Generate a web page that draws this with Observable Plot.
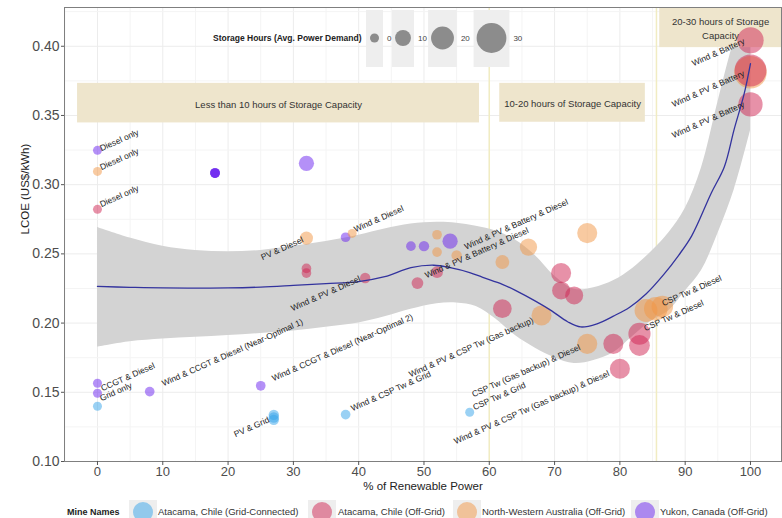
<!DOCTYPE html>
<html>
<head>
<meta charset="utf-8">
<script src="https://cdn.jsdelivr.net/npm/d3@7"></script>
<script src="https://cdn.jsdelivr.net/npm/@observablehq/plot@0.6"></script>
<style>
  body { margin: 0; background: #fff; font-family: "Liberation Sans", Arial, sans-serif; }
  #chart { position: relative; width: 782px; height: 518px; overflow: hidden; background: #fff; }
  #chart svg { display: block; }
</style>
</head>
<body>
<div id="chart"></div>
<script>
// Mines (colour legend)
const mineNames = [
  "Atacama, Chile (Grid-Connected)",
  "Atacama, Chile (Off-Grid)",
  "North-Western Australia (Off-Grid)",
  "Yukon, Canada (Off-Grid)"
];
const mineColors = ["#35a3e9", "#cf2352", "#f29644", "#6a22f0"];

// Each design: [% renewable power, LCOE (US$/kWh), storage hours]
const atacamaGrid = [
  [0, 0.1399, 0], [27, 0.1337, 2], [27, 0.1318, 2], [27, 0.1301, 2],
  [38, 0.1339, 1], [57, 0.1356, 0]
];
const atacamaOffGrid = [
  [0, 0.2822, 0], [32, 0.2395, 1], [32, 0.2361, 1], [41, 0.2326, 2],
  [49, 0.2289, 4], [52, 0.2368, 4], [62, 0.2104, 14], [71, 0.2361, 16],
  [71, 0.2236, 13], [73, 0.2200, 13], [79, 0.1850, 16], [80, 0.1670, 16],
  [83, 0.1923, 19], [83, 0.1838, 17], [100, 0.4043, 25], [100, 0.3825, 33],
  [100, 0.3580, 22]
];
const nwAustralia = [
  [0, 0.3096, 0], [32, 0.2614, 6], [39, 0.2648, 0], [52, 0.2638, 1],
  [52, 0.2513, 1], [55, 0.2489, 2], [62, 0.2441, 7], [66, 0.2549, 12],
  [68, 0.2055, 16], [75, 0.2650, 16], [75, 0.1850, 16], [84, 0.2091, 20],
  [85.5, 0.2104, 21], [86.5, 0.2120, 18], [100, 0.3812, 34]
];
const yukon = [
  [0, 0.3248, 0], [18, 0.3084, 1], [18, 0.3084, 1], [18, 0.3084, 1],
  [18, 0.3084, 1], [32, 0.3154, 9], [38, 0.2620, 1], [0, 0.1565, 0],
  [0, 0.1493, 0], [8, 0.1505, 1], [25, 0.1547, 1], [48, 0.2556, 1],
  [50, 0.2556, 2], [54, 0.2592, 9]
];

// Smoothed trend and its confidence band
const fitPct  = [0, 5, 10, 15, 20, 25, 30, 35, 40, 44, 48, 51.5, 54, 57, 59, 62, 64, 67, 69.5, 72, 74, 76.5, 79, 81.5, 84, 86.7, 89, 91, 94, 96, 97.5, 99, 100];
const fitLcoe = [0.2265, 0.2258, 0.2255, 0.2253, 0.2254, 0.2260, 0.2272, 0.2285, 0.2300, 0.2335, 0.2400, 0.2418, 0.2400, 0.2365, 0.2330, 0.2280, 0.2236, 0.2160, 0.2090, 0.2010, 0.1972, 0.1995, 0.2050, 0.2115, 0.2210, 0.2350, 0.2490, 0.2630, 0.2940, 0.3130, 0.3400, 0.3650, 0.3875];
const bandPct  = [0, 5, 10, 15, 20, 25, 30, 35, 40, 44, 48, 52, 55, 58, 61, 64, 67, 70, 73, 76, 79, 82, 85, 87.5, 90, 92.5, 95, 97.5, 100];
const bandLow  = [0.1826, 0.1865, 0.1885, 0.1897, 0.1910, 0.1925, 0.1943, 0.1970, 0.2000, 0.2045, 0.2100, 0.2140, 0.2145, 0.2120, 0.2030, 0.1910, 0.1820, 0.1750, 0.1708, 0.1730, 0.1785, 0.1905, 0.2020, 0.2090, 0.2230, 0.2380, 0.2646, 0.2962, 0.3390];
const bandHigh = [0.2691, 0.2615, 0.2555, 0.2525, 0.2515, 0.2525, 0.2555, 0.2590, 0.2635, 0.2680, 0.2715, 0.2728, 0.2722, 0.2700, 0.2665, 0.2600, 0.2490, 0.2340, 0.2245, 0.2255, 0.2305, 0.2397, 0.2524, 0.2653, 0.2828, 0.3123, 0.3594, 0.4043, 0.4400];

// Storage-capacity tiers
const tierLabels = ["Less than 10 hours of Storage Capacity", "10-20 hours of Storage Capacity", "20-30 hours of Storage\nCapacity"];
const tierPct    = [[-3.05, 58.5], [61.6, 83.9], [86.1, 104.75]];
const tierLcoe   = [[0.3446, 0.3732], [0.3451, 0.3732], [0.3990, 0.4280]];
const tierBreaks = [60, 85.6];

// Design labels: [text, % renewable, LCOE] at the start of each label
const designLabels = [
  ["Diesel only", 0.61, 0.3241],
  ["Diesel only", 0.61, 0.3104],
  ["Diesel only", 0.61, 0.2837],
  ["PV & Diesel", 25.27, 0.2454],
  ["Wind & Diesel", 39.51, 0.2656],
  ["Wind & PV & Diesel", 29.86, 0.2085],
  ["Wind & CCGT & Diesel (Near-Optimal 1)", 10.11, 0.1543],
  ["Wind & CCGT & Diesel (Near-Optimal 2)", 26.95, 0.1579],
  ["CCGT & Diesel", 0.77, 0.1507],
  ["Grid only", 0.61, 0.1435],
  ["PV & Grid", 21.13, 0.1175],
  ["Wind & CSP Tw & Grid", 39.05, 0.1363],
  ["CSP Tw & Grid", 57.73, 0.1370],
  ["CSP Tw (Gas backup) & Diesel", 57.58, 0.1464],
  ["Wind & PV & CSP Tw (Gas backup) & Diesel", 54.82, 0.1124],
  ["Wind & PV & CSP Tw (Gas backup)", 47.93, 0.1608],
  ["CSP Tw & Diesel", 86.68, 0.2121],
  ["CSP Tw & Diesel", 83.92, 0.1941],
  ["Wind & PV & Battery & Diesel", 56.43, 0.2530],
  ["Wind & PV & Battery & Diesel", 50.38, 0.2324],
  ["Wind & Battery", 91.27, 0.3855],
  ["Wind & PV & Battery", 88.21, 0.3559],
  ["Wind & PV & Battery", 88.21, 0.3335]
];

// Axis ticks and legend breaks
const pctTicks = [0, 10, 20, 30, 40, 50, 60, 70, 80, 90, 100];
const pctMinor = [-5, 5, 15, 25, 35, 45, 55, 65, 75, 85, 95];
const lcoeTicks = [0.10, 0.15, 0.20, 0.25, 0.30, 0.35, 0.40];
const lcoeMinor = [0.125, 0.175, 0.225, 0.275, 0.325, 0.375, 0.425];
const storageBreaks = [0, 10, 20, 30];

// Tables built from the arrays above
const mineSeries = [atacamaGrid, atacamaOffGrid, nwAustralia, yukon];
const points = mineSeries.flatMap((rows, i) =>
  rows.map(([pct, lcoe, hours]) => ({mine: mineNames[i], pct, lcoe, hours})));
const fit = fitPct.map((pct, i) => ({pct, lcoe: fitLcoe[i]}));
const band = bandPct.map((pct, i) => ({pct, low: bandLow[i], high: bandHigh[i]}));
const tiers = tierLabels.map((label, i) => ({
  label, x1: tierPct[i][0], x2: tierPct[i][1], y1: tierLcoe[i][0], y2: tierLcoe[i][1]
}));
const labels = designLabels.map(([text, pct, lcoe]) => ({text, pct, lcoe}));

const font = "'Liberation Sans', Arial, sans-serif";
const pointOpacity = 0.5;

const chart = Plot.plot({
  width: 782,
  height: 500,
  marginLeft: 64,
  marginRight: 1,
  marginTop: 7,
  marginBottom: 39,
  style: {fontFamily: font, background: "#fff", overflow: "visible"},
  x: {domain: [-5.05, 104.75]},
  y: {domain: [0.10, 0.428]},
  r: {type: "linear", domain: [0, 30], range: [4.5, 14.9]},
  color: {domain: mineNames, range: mineColors},
  marks: [
    Plot.gridX(pctMinor, {stroke: "#f4f4f4", strokeOpacity: 1}),
    Plot.gridX(pctTicks, {stroke: "#ececec", strokeOpacity: 1}),
    Plot.gridY(lcoeMinor, {stroke: "#f4f4f4", strokeOpacity: 1}),
    Plot.gridY(lcoeTicks, {stroke: "#ececec", strokeOpacity: 1}),
    Plot.ruleX(tierBreaks, {stroke: "#f1ecc2", strokeWidth: 1.5}),
    Plot.areaY(band, {x: "pct", y1: "low", y2: "high", fill: "#d3d3d3", curve: "catmull-rom", clip: true}),
    Plot.rect(tiers, {x1: "x1", x2: "x2", y1: "y1", y2: "y2", fill: "#eee5cc", clip: true}),
    Plot.text(tiers, {
      x: d => (d.x1 + d.x2) / 2, y: d => (d.y1 + d.y2) / 2, text: "label",
      fontSize: 9.5, fill: "#333", lineHeight: 1.5
    }),
    Plot.dot(points, {x: "pct", y: "lcoe", r: "hours", fill: "mine", fillOpacity: pointOpacity}),
    Plot.line(fit, {x: "pct", y: "lcoe", stroke: "#33339e", strokeWidth: 1.3, curve: "catmull-rom"}),
    Plot.text(labels, {
      x: "pct", y: "lcoe", text: "text", rotate: -24,
      textAnchor: "start", lineAnchor: "bottom", fontSize: 8.5, fill: "#222"
    }),
    Plot.frame({stroke: "#7f7f7f"}),
    Plot.axisX({ticks: pctTicks, tickSize: 4, tickPadding: 1, fontSize: 13, label: null, stroke: "#555", fill: "#4d4d4d"}),
    Plot.axisY({ticks: lcoeTicks, tickFormat: d3.format(".2f"), tickSize: 3, tickPadding: 2, fontSize: 14, label: null, stroke: "#555", fill: "#4d4d4d"}),
    Plot.text(["% of Renewable Power"], {text: d => d, frameAnchor: "bottom", dy: 28, fontSize: 11.5, fill: "#222"}),
    Plot.text(["LCOE (US$/kWh)"], {text: d => d, frameAnchor: "left", dx: -39, rotate: -90, fontSize: 11.5, fill: "#222"})
  ]
});

// Storage-hours size legend, inside the panel at the top
const rScale = chart.scale("r");
const sizeLegend = d3.select(chart).append("g")
  .attr("font-family", font)
  .attr("text-anchor", "start");
sizeLegend.append("text")
  .attr("x", 213).attr("y", 38).attr("dy", "0.35em")
  .attr("font-size", 8.5).attr("font-weight", "bold").attr("fill", "#222")
  .text("Storage Hours (Avg. Power Demand)");
const keyCenters = [374.5, 403, 442.5, 491.5];
storageBreaks.forEach((v, i) => {
  const r = rScale.apply(v);
  const w = Math.max(17, 2 * r + 6);
  const cx = keyCenters[i];
  sizeLegend.append("rect")
    .attr("x", cx - w / 2).attr("y", 10).attr("width", w).attr("height", 57)
    .attr("fill", "#eeeeee");
  sizeLegend.append("circle")
    .attr("cx", cx).attr("cy", 38).attr("r", r).attr("fill", "#7a7a7a").attr("fill-opacity", 0.85);
  sizeLegend.append("text")
    .attr("x", cx + w / 2 + 4).attr("y", 38).attr("dy", "0.35em")
    .attr("font-size", 8).attr("fill", "#444")
    .text(v);
});

const root = document.getElementById("chart");
root.appendChild(chart);

// Mine colour legend below the chart
const keyX = [143, 322, 467, 645];
const textX = [158, 338, 482, 660];
const legend = d3.select(root).append("svg")
  .attr("width", 782).attr("height", 18)
  .style("overflow", "hidden")
  .attr("font-family", font);
legend.append("text")
  .attr("x", 67).attr("y", 12).attr("dy", "0.35em")
  .attr("font-size", 9).attr("font-weight", "bold").attr("fill", "#222")
  .text("Mine Names");
mineNames.forEach((name, i) => {
  legend.append("rect")
    .attr("x", keyX[i] - 14).attr("y", -2).attr("width", 28).attr("height", 28)
    .attr("fill", "#eeeeee");
  legend.append("circle")
    .attr("cx", keyX[i]).attr("cy", 12).attr("r", 10)
    .attr("fill", mineColors[i]).attr("fill-opacity", pointOpacity);
  legend.append("text")
    .attr("x", textX[i]).attr("y", 12).attr("dy", "0.35em")
    .attr("font-size", 9.5).attr("fill", "#333")
    .text(name);
});
</script>
</body>
</html>
